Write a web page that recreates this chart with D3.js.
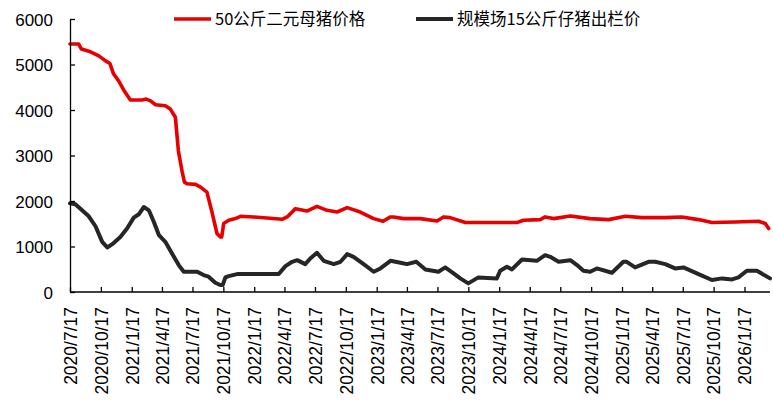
<!DOCTYPE html>
<html>
<head>
<meta charset="utf-8">
<script src="https://cdn.jsdelivr.net/npm/d3@7"></script>
<style>
  body { margin: 0; background: #fff; }
  svg { font-family: "Noto Sans CJK SC", "Noto Sans", sans-serif; }
  .axis path, .axis line { stroke: #000; stroke-width: 1.3; }
  .axis text { fill: #000; font-size: 17px; }
  .x.axis text { font-size: 17.5px; }
  .legend text { font-size: 16.5px; fill: #000; }
</style>
</head>
<body>
<div id="chart"></div>
<script>
var width = 773, height = 404;

// 50公斤二元母猪价格
var sowDates = ["2020-07-17","2020-08-12","2020-08-20","2020-09-16","2020-10-11","2020-10-31","2020-11-13","2020-11-24","2020-12-09","2020-12-24",
  "2021-01-13","2021-02-17","2021-03-01","2021-03-14","2021-03-29","2021-04-27","2021-05-12","2021-05-27","2021-06-05","2021-06-16","2021-06-23",
  "2021-07-01","2021-07-26","2021-08-10","2021-08-29","2021-09-13","2021-09-28","2021-10-08","2021-10-12","2021-10-18","2021-11-02","2021-11-22",
  "2021-12-07","2022-01-15","2022-02-24","2022-04-10","2022-04-25","2022-05-20","2022-06-23","2022-07-23","2022-08-22","2022-09-21","2022-10-21",
  "2022-11-29","2023-01-08","2023-02-05","2023-02-27","2023-03-08","2023-04-07","2023-05-27","2023-07-16","2023-08-04","2023-08-24","2023-10-08",
  "2024-03-10","2024-03-29","2024-05-18","2024-06-02","2024-06-27","2024-08-16","2024-10-14","2024-12-08","2025-01-27","2025-03-17","2025-05-26",
  "2025-07-14","2025-09-02","2025-10-12","2025-12-20","2026-02-28","2026-03-20","2026-03-30"];
var sowValues = [5450,5450,5340,5280,5190,5080,5020,4790,4640,4440,
  4220,4220,4240,4200,4115,4095,4020,3840,3100,2650,2415,
  2380,2365,2305,2196,1758,1285,1210,1210,1504,1577,1613,
  1664,1650,1627,1598,1650,1832,1780,1883,1795,1758,1854,
  1758,1613,1555,1650,1650,1613,1613,1562,1650,1635,1526,
  1526,1577,1591,1650,1613,1671,1613,1591,1664,1635,1635,
  1650,1591,1526,1540,1555,1504,1395];

// 规模场15公斤仔猪出栏价
var pigletDates = ["2020-07-17","2020-08-02","2020-08-22","2020-09-11","2020-10-01","2020-10-21","2020-11-05","2020-11-20","2020-12-14","2021-01-03",
  "2021-01-23","2021-02-07","2021-02-22","2021-03-09","2021-03-24","2021-04-08","2021-04-27","2021-05-17","2021-06-06","2021-06-21","2021-07-31",
  "2021-08-19","2021-09-03","2021-09-23","2021-10-08","2021-10-15","2021-10-23","2021-11-02","2021-11-27","2022-03-31","2022-04-20","2022-05-10",
  "2022-05-25","2022-06-18","2022-07-03","2022-07-23","2022-08-12","2022-09-11","2022-10-01","2022-10-21","2022-11-09","2022-12-09","2023-01-08",
  "2023-01-28","2023-02-27","2023-03-29","2023-04-17","2023-05-15","2023-06-11","2023-07-20","2023-08-09","2023-09-03","2023-09-23","2023-10-17",
  "2023-11-16","2024-01-10","2024-01-20","2024-02-09","2024-02-24","2024-03-25","2024-05-08","2024-06-02","2024-06-17","2024-07-12","2024-08-16",
  "2024-09-05","2024-09-24","2024-10-14","2024-11-03","2024-12-18","2025-01-21","2025-01-31","2025-02-25","2025-04-06","2025-04-26","2025-05-26",
  "2025-06-24","2025-07-19","2025-09-02","2025-10-12","2025-11-11","2025-12-11","2025-12-30","2026-01-24","2026-02-23","2026-04-03"];
var pigletValues = [1950,1927,1795,1664,1445,1102,979,1051,1211,1394,
  1635,1708,1868,1795,1540,1248,1102,847,591,445,445,
  372,336,204,153,153,321,350,394,394,569,664,
  700,613,737,861,686,613,664,832,774,613,445,
  518,686,642,613,664,496,445,540,409,299,190,
  321,299,467,555,496,715,686,810,774,664,700,
  591,467,445,518,423,664,664,540,664,664,613,
  518,540,394,263,299,277,321,467,467,299];

var tickLabels = ["2020/7/17","2020/10/17","2021/1/17","2021/4/17","2021/7/17","2021/10/17","2022/1/17","2022/4/17",
  "2022/7/17","2022/10/17","2023/1/17","2023/4/17","2023/7/17","2023/10/17","2024/1/17","2024/4/17","2024/7/17",
  "2024/10/17","2025/1/17","2025/4/17","2025/7/17","2025/10/17","2026/1/17"];
var yTicks = [0,1000,2000,3000,4000,5000,6000];

var seriesNames = ["50公斤二元母猪价格", "规模场15公斤仔猪出栏价"];
var seriesColors = ["#e60000", "#262626"];

var parseDay = d3.timeParse("%Y-%m-%d");
var parseTick = d3.timeParse("%Y/%m/%d");
var fmtTick = d3.timeFormat("%Y/%-m/%-d");

var series = [
  sowDates.map(function(d, i) { return { date: parseDay(d), value: sowValues[i] }; }),
  pigletDates.map(function(d, i) { return { date: parseDay(d), value: pigletValues[i] }; })
];

var margin = { left: 70, right: 3, top: 19, bottom: 112 };

var x = d3.scaleTime()
    .domain([parseDay("2020-07-17"), parseDay("2026-04-03")])
    .range([margin.left, width - margin.right]);

var y = d3.scaleLinear()
    .domain([0, 6000])
    .range([height - margin.bottom, margin.top]);

var svg = d3.select("#chart").append("svg")
    .attr("width", width)
    .attr("height", height);

var line = d3.line()
    .x(function(d) { return x(d.date); })
    .y(function(d) { return y(d.value); });

svg.selectAll(".series")
    .data(series)
  .enter().append("path")
    .attr("class", "series")
    .attr("d", line)
    .attr("fill", "none")
    .attr("stroke", function(d, i) { return seriesColors[i]; })
    .attr("stroke-width", function(d, i) { return i === 0 ? 3.6 : 4; })
    .attr("stroke-linejoin", "round")
    .attr("stroke-linecap", "round");

// y axis, ticks pointing inward
svg.append("g")
    .attr("class", "y axis")
    .attr("transform", "translate(" + margin.left + ",0)")
    .call(d3.axisLeft(y).tickValues(yTicks).tickFormat(d3.format("d"))
      .tickSizeInner(-5).tickSizeOuter(0).tickPadding(17))
    .call(function(g) { g.selectAll("text").attr("dy", "0.36em"); });

// x axis with rotated date labels
var xAxis = svg.append("g")
    .attr("class", "x axis")
    .attr("transform", "translate(0," + y(0) + ")")
    .call(d3.axisBottom(x)
      .tickValues(tickLabels.map(parseTick))
      .tickFormat(fmtTick)
      .tickSizeInner(-5).tickSizeOuter(0).tickPadding(0));

xAxis.select(".domain").attr("d", "M" + margin.left + ",0H" + (width - margin.right));

xAxis.selectAll("text")
    .attr("transform", "rotate(-90)")
    .attr("text-anchor", "end")
    .attr("x", -15)
    .attr("y", 0)
    .attr("dy", "0.36em");

// legend
var legendX = [174, 416];
var legend = svg.selectAll(".legend")
    .data(seriesNames)
  .enter().append("g")
    .attr("class", "legend")
    .attr("transform", function(d, i) { return "translate(" + legendX[i] + ",19)"; });

legend.append("line")
    .attr("x1", 0).attr("x2", 37)
    .attr("stroke", function(d, i) { return seriesColors[i]; })
    .attr("stroke-width", function(d, i) { return i === 0 ? 3.6 : 4; });

legend.append("text")
    .attr("x", 41)
    .attr("dy", "0.36em")
    .text(function(d) { return d; });
</script>
</body>
</html>
